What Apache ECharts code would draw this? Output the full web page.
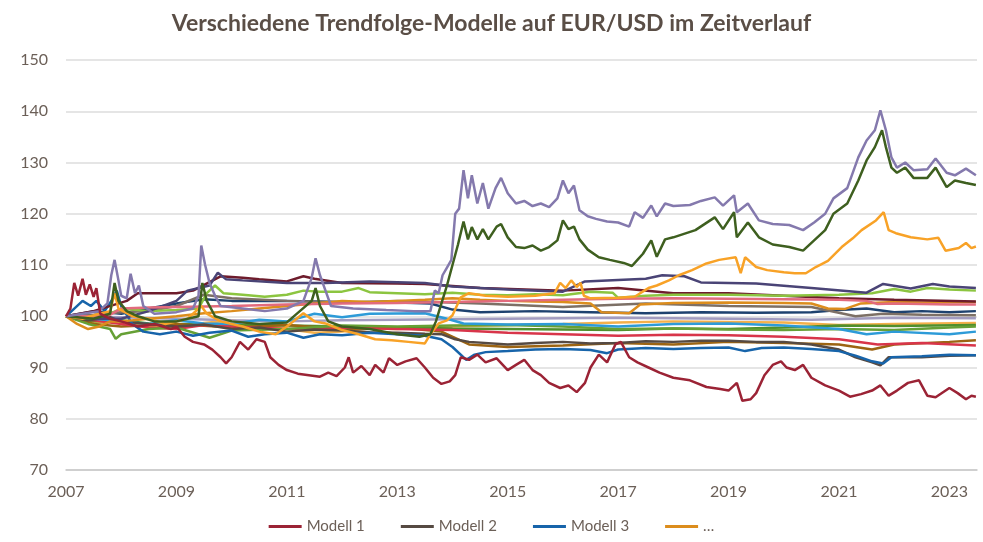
<!DOCTYPE html>
<html><head><meta charset="utf-8">
<script src="https://cdn.jsdelivr.net/npm/echarts@6/dist/echarts.min.js"></script>
<style>html,body{margin:0;padding:0;background:#fff}#c{width:983px;height:542px}</style>
</head><body><div id="c"></div>
<script>
const titleText = 'Verschiedene Trendfolge-Modelle auf EUR/USD im Zeitverlauf';
const yTicks = [70, 80, 90, 100, 110, 120, 130, 140, 150];
const xStartYear = 2007;
const xEndYear = 2023.5;
const legendNames = ['Modell 1', 'Modell 2', 'Modell 3', '…'];

// [decimal year, index value]
const modell1 = [[2007.0,100],[2007.08,101.5],[2007.15,106.5],[2007.22,104],[2007.3,107.3],[2007.36,104.2],[2007.43,106.2],[2007.5,103.8],[2007.55,105.5],[2007.62,100.5],[2007.8,99.5],[2008.0,99],[2008.3,98],[2008.6,98.5],[2008.9,97.5],[2009.0,98],[2009.15,96],[2009.3,95],[2009.5,94.5],[2009.65,93.5],[2009.8,92],[2009.9,90.8],[2010.0,92],[2010.15,95],[2010.3,93.5],[2010.45,95.5],[2010.6,95],[2010.7,92],[2010.85,90.5],[2011.0,89.5],[2011.2,88.8],[2011.4,88.5],[2011.6,88.2],[2011.75,89],[2011.9,88.3],[2012.05,90],[2012.12,92],[2012.2,89],[2012.35,90.3],[2012.5,88.5],[2012.6,90.5],[2012.75,89],[2012.85,91.8],[2013.0,90.5],[2013.15,91.2],[2013.35,91.8],[2013.5,90],[2013.65,88],[2013.8,86.8],[2013.95,87.3],[2014.05,88.5],[2014.15,92],[2014.3,91.5],[2014.45,92.5],[2014.6,91],[2014.8,91.8],[2015.0,89.5],[2015.15,90.5],[2015.3,91.5],[2015.45,89.5],[2015.6,88.5],[2015.75,87],[2015.95,86],[2016.1,86.5],[2016.25,85.2],[2016.4,87],[2016.5,90],[2016.65,92.5],[2016.8,91],[2016.95,94.5],[2017.05,95],[2017.2,92],[2017.35,91],[2017.55,90],[2017.75,89],[2018.0,88],[2018.3,87.5],[2018.6,86.2],[2018.85,85.8],[2019.0,85.5],[2019.15,87],[2019.25,83.5],[2019.4,83.8],[2019.5,85],[2019.65,88.5],[2019.8,90.5],[2019.95,91.2],[2020.05,90],[2020.2,89.5],[2020.35,90.5],[2020.5,88],[2020.75,86.5],[2021.0,85.5],[2021.2,84.3],[2021.4,84.8],[2021.6,85.5],[2021.75,86.5],[2021.9,84.5],[2022.05,85.5],[2022.25,87],[2022.45,87.5],[2022.6,84.5],[2022.75,84.2],[2023.0,86],[2023.15,85],[2023.3,83.8],[2023.4,84.5],[2023.48,84.3]];
const modell2 = [[2007.0,100],[2007.4,99.2],[2007.8,99.8],[2008.0,99],[2008.5,98.5],[2009.0,98],[2009.5,98.4],[2010.0,97.5],[2010.5,97.8],[2011.0,97],[2011.5,97.4],[2012.0,97.2],[2012.5,96.9],[2013.0,96.8],[2013.5,96.6],[2013.8,96.5],[2014.05,95.5],[2014.3,95],[2015.0,94.5],[2015.5,94.8],[2016.0,95],[2016.5,94.7],[2017.0,94.8],[2017.5,95.1],[2018.0,95],[2018.5,95.2],[2019.0,95.2],[2019.5,95],[2020.0,95],[2020.5,94.5],[2021.0,93.5],[2021.3,92],[2021.6,91],[2021.75,90.4],[2021.9,92],[2022.5,92],[2023.0,92.3],[2023.48,92.4]];
const modell3 = [[2007.0,100],[2007.15,101.5],[2007.3,103],[2007.45,102],[2007.55,103],[2007.7,101],[2007.85,103.5],[2007.92,105],[2008.0,102],[2008.2,98.5],[2008.4,97],[2008.7,96.5],[2009.0,97],[2009.3,96.2],[2009.6,96.8],[2010.0,97.2],[2010.3,96],[2010.6,96.5],[2011.0,96.8],[2011.3,95.8],[2011.6,96.5],[2012.0,96.3],[2012.5,96.8],[2013.0,96.5],[2013.5,96.2],[2013.8,95.5],[2014.0,94],[2014.25,91.5],[2014.4,92.5],[2014.6,93],[2015.0,93.2],[2015.5,93.5],[2016.0,93.6],[2016.5,93.4],[2016.8,92.8],[2017.0,93.5],[2017.5,93.8],[2018.0,93.6],[2018.5,93.8],[2019.0,93.9],[2019.3,93.2],[2019.6,93.8],[2020.0,93.9],[2020.5,93.6],[2021.0,93.2],[2021.3,92.3],[2021.6,91.2],[2021.8,90.8],[2021.95,92],[2022.5,92.2],[2023.0,92.5],[2023.48,92.4]];
const modell4 = [[2007.0,100],[2007.2,98.5],[2007.4,97.5],[2007.6,98],[2007.8,99],[2008.0,99],[2008.5,99.5],[2009.0,100],[2009.5,100.6],[2010.0,101],[2010.5,101.5],[2011.0,102],[2011.5,102.5],[2012.0,103],[2012.5,102.8],[2013.0,103],[2013.5,103.2],[2014.0,103.5],[2014.5,103.2],[2015.0,103],[2015.5,102.9],[2016.0,102.8],[2016.5,102.5],[2016.7,100.8],[2017.2,100.6],[2017.4,102.3],[2018.0,102.6],[2019.0,102.7],[2020.0,102.6],[2020.5,102.5],[2020.8,101.5],[2021.1,101.4],[2021.4,102.5],[2022.0,102.8],[2022.5,102.7],[2023.48,102.8]];
const modell5 = [[2007.0,100],[2007.3,100.5],[2007.6,101],[2007.75,102.5],[2007.82,108],[2007.88,111],[2007.95,107],[2008.0,104],[2008.1,103.5],[2008.17,108.3],[2008.25,104.5],[2008.32,106],[2008.4,102],[2008.6,100.5],[2009.0,100.8],[2009.3,101.5],[2009.4,104],[2009.45,113.8],[2009.52,110],[2009.6,106.5],[2009.7,104],[2009.8,102],[2010.2,101.5],[2010.6,101],[2011.0,101.5],[2011.3,103],[2011.45,107.5],[2011.52,111.3],[2011.6,108],[2011.7,105],[2011.8,102],[2012.2,101.5],[2012.8,101.2],[2013.3,101],[2013.6,101],[2013.68,105],[2013.75,104.5],[2013.82,108],[2013.9,109.5],[2013.98,111],[2014.05,120],[2014.12,121],[2014.2,128.5],[2014.28,123],[2014.35,127.5],[2014.45,122],[2014.55,126],[2014.65,121],[2014.78,125],[2014.88,127],[2015.0,124],[2015.15,122],[2015.3,122.5],[2015.45,121.5],[2015.6,122],[2015.75,121.3],[2015.9,123],[2016.0,126.5],[2016.1,124],[2016.2,125.5],[2016.3,120.7],[2016.45,119.5],[2016.6,119],[2016.8,118.5],[2017.0,118.3],[2017.2,117.5],[2017.3,120.3],[2017.45,119.2],[2017.6,121.6],[2017.7,119.5],[2017.85,122],[2018.0,121.5],[2018.3,121.7],[2018.5,122.5],[2018.75,123.2],[2018.9,121.6],[2019.1,123.6],[2019.15,120.3],[2019.35,122],[2019.55,118.7],[2019.8,118],[2020.1,117.8],[2020.35,116.8],[2020.55,118.3],[2020.75,120],[2020.9,123],[2021.15,125],[2021.35,131],[2021.5,134.3],[2021.65,136.3],[2021.75,140.2],[2021.85,136.3],[2021.95,131],[2022.05,129],[2022.2,130],[2022.35,128.5],[2022.6,128.7],[2022.75,130.8],[2022.95,128],[2023.1,127.5],[2023.3,128.8],[2023.48,127.5]];
const modell6 = [[2007.0,100],[2007.5,99.5],[2007.8,100.5],[2007.88,106.5],[2007.95,103],[2008.1,101],[2008.3,100],[2008.6,99],[2009.0,99],[2009.4,100],[2009.47,106.5],[2009.55,103],[2009.7,100],[2010.0,99],[2010.5,98.5],[2011.0,98.8],[2011.45,103],[2011.52,105.5],[2011.6,102],[2011.75,99],[2012.0,98],[2012.5,97.5],[2013.0,96.5],[2013.4,96],[2013.6,96.5],[2013.7,99],[2013.8,102.5],[2013.9,106],[2014.0,110],[2014.1,114],[2014.2,118.5],[2014.28,115],[2014.35,117.4],[2014.45,115],[2014.55,117],[2014.65,115],[2014.8,117.5],[2014.88,118],[2015.0,115.4],[2015.15,113.5],[2015.3,113.3],[2015.45,113.8],[2015.6,112.8],[2015.75,113.5],[2015.9,114.8],[2016.0,118.7],[2016.1,117],[2016.2,117.5],[2016.3,115],[2016.45,113],[2016.65,111.5],[2016.85,111],[2017.1,110.4],[2017.25,109.8],[2017.35,111],[2017.45,112.2],[2017.6,114.8],[2017.7,111.6],[2017.85,115],[2018.0,115.4],[2018.4,116.8],[2018.75,119.3],[2018.9,117],[2019.1,120.3],[2019.15,115.4],[2019.35,118.3],[2019.55,115.4],[2019.8,114],[2020.1,113.5],[2020.35,112.8],[2020.55,114.8],[2020.75,116.8],[2020.9,120],[2021.15,122],[2021.35,126.5],[2021.5,130.4],[2021.65,133],[2021.78,136.3],[2021.85,133],[2021.95,129],[2022.05,128],[2022.2,129],[2022.35,127],[2022.6,127],[2022.75,129],[2022.95,125.2],[2023.1,126.5],[2023.3,126],[2023.48,125.6]];
const modell7 = [[2007.0,100],[2007.3,99.5],[2007.6,100.5],[2007.8,101],[2007.88,104.5],[2007.95,101.5],[2008.2,100],[2008.5,99.5],[2008.8,98.5],[2009.2,99.5],[2009.45,102],[2009.55,100.5],[2009.8,99],[2010.2,98],[2010.5,97],[2010.8,96.5],[2011.0,98],[2011.3,100.6],[2011.5,99],[2011.7,98.6],[2012.0,97.3],[2012.3,96.5],[2012.6,95.5],[2012.9,95.3],[2013.2,95],[2013.5,94.7],[2013.6,96.5],[2013.75,98.6],[2013.9,99.2],[2014.0,100.2],[2014.15,103.7],[2014.3,104.5],[2014.6,104],[2015.0,103.8],[2015.5,104],[2015.85,104.5],[2015.95,106.5],[2016.05,105.5],[2016.15,107],[2016.25,105.7],[2016.32,106.5],[2016.38,104],[2016.5,103.5],[2017.0,103.6],[2017.3,103.8],[2017.4,104.5],[2017.55,105.5],[2017.7,106],[2017.92,107],[2018.1,108],[2018.34,109],[2018.6,110.3],[2018.83,111],[2019.13,111.5],[2019.22,108.4],[2019.3,111.5],[2019.5,109.6],[2019.7,109],[2020.0,108.6],[2020.2,108.4],[2020.4,108.4],[2020.58,109.6],[2020.8,110.8],[2021.05,113.5],[2021.25,115.2],[2021.41,116.8],[2021.67,118.7],[2021.81,120.3],[2021.9,116.8],[2022.03,116.2],[2022.3,115.4],[2022.6,115],[2022.8,115.3],[2022.93,112.8],[2023.17,113.3],[2023.3,114.3],[2023.4,113.3],[2023.48,113.6]];
const modell8 = [[2007.0,100],[2007.5,99.5],[2008.0,99.5],[2008.5,101],[2009.0,103],[2009.2,105],[2009.6,106],[2009.75,108.5],[2009.9,107.2],[2010.2,107],[2011.0,106.5],[2011.7,106.5],[2012.5,106.8],[2013.5,106.5],[2014.0,105.8],[2015.0,105.2],[2016.0,104.8],[2016.4,106.8],[2017.5,107.3],[2017.8,108],[2018.2,107.8],[2018.5,106.6],[2019.5,106.4],[2020.5,105.5],[2021.5,104.6],[2021.8,106.3],[2022.3,105.4],[2022.7,106.3],[2023.0,105.8],[2023.48,105.5]];
const modell9 = [[2007.0,100],[2007.5,101],[2008.1,103],[2008.3,104.5],[2009.0,104.5],[2009.3,105],[2009.8,107.8],[2010.2,107.5],[2010.5,107.2],[2011.0,106.8],[2011.3,107.8],[2011.5,107.3],[2012.0,106.5],[2013.0,106.4],[2013.5,106.3],[2014.5,105.5],[2016.0,105],[2017.0,105.5],[2018.0,104.5],[2019.0,104.5],[2020.0,104],[2021.0,103.5],[2022.0,103.2],[2023.48,102.9]];
const modell10 = [[2007.0,100],[2007.5,99.5],[2007.8,100.5],[2008.0,101.5],[2008.5,101],[2009.0,101.2],[2009.4,101.5],[2009.55,104.5],[2009.7,106],[2009.85,104.5],[2010.2,104.2],[2010.6,103.8],[2011.0,104.2],[2011.3,105],[2011.6,104.8],[2012.0,104.8],[2012.3,105.5],[2012.5,104.7],[2013.0,104.5],[2013.5,104.3],[2014.0,104.6],[2014.5,104.2],[2015.0,104.1],[2015.5,104.3],[2016.0,104.1],[2016.5,104.8],[2016.9,104.6],[2017.0,103.6],[2017.5,104],[2018.0,104.2],[2019.0,104.2],[2020.0,104],[2021.0,104.2],[2021.6,104.5],[2022.0,105.3],[2022.3,104.8],[2022.6,105.5],[2023.0,105.2],[2023.48,105]];
const modell11 = [[2007.0,100],[2007.5,100],[2007.8,100.3],[2008.0,101.5],[2008.5,101.7],[2009.0,101.8],[2010.0,102],[2011.0,102.3],[2012.0,102.5],[2013.0,102.6],[2014.0,102.8],[2015.0,103],[2016.0,103.2],[2017.0,103.4],[2018.0,103.5],[2019.0,103.4],[2020.0,103.3],[2021.0,103.2],[2021.5,103],[2021.7,102.4],[2022.0,102.5],[2023.0,102.3],[2023.48,102.3]];
const modell12 = [[2007.0,100],[2007.5,99.5],[2008.0,99],[2008.5,98.5],[2009.0,99.2],[2009.5,98.6],[2010.0,98.5],[2010.5,99.3],[2011.0,99],[2011.5,100.5],[2012.0,99.8],[2012.5,100.5],[2013.5,100.6],[2013.9,99.5],[2014.2,98.6],[2015.0,98.4],[2016.0,98.5],[2017.0,98],[2018.0,98.5],[2019.0,98.6],[2020.0,98.2],[2021.0,97.5],[2021.5,96.5],[2022.0,97],[2023.0,96.5],[2023.48,97]];
const modell13 = [[2007.0,100],[2007.5,99.2],[2008.0,98.5],[2008.5,97.8],[2009.0,97.5],[2009.5,98.3],[2010.0,98],[2011.0,97.5],[2012.0,97.8],[2013.0,97.5],[2014.0,97.3],[2015.0,96.8],[2016.0,96.5],[2017.0,96.2],[2018.0,96.4],[2019.0,96.3],[2020.0,96],[2021.0,95.5],[2021.7,94.5],[2022.5,94.8],[2023.48,94.3]];
const modell14 = [[2007.0,100],[2007.4,98.5],[2007.8,97.5],[2007.9,95.6],[2008.0,96.5],[2008.5,97.5],[2009.0,97.8],[2009.4,96.5],[2009.6,95.8],[2010.0,97.2],[2011.0,97.5],[2012.0,98.2],[2013.0,98],[2014.0,98.2],[2015.0,98.3],[2016.0,98],[2017.0,97.5],[2018.0,97.6],[2019.0,97.4],[2020.0,97.3],[2021.0,97.5],[2022.0,97.3],[2023.0,97.8],[2023.48,98]];
const modell15 = [[2007.0,100],[2008.0,99.8],[2009.0,99.5],[2010.0,99.2],[2011.0,99],[2012.0,99.2],[2013.0,99.3],[2014.0,99.4],[2015.0,99.5],[2016.0,99.6],[2017.0,99.7],[2018.0,99.6],[2019.0,99.5],[2020.5,99.3],[2022.0,99.7],[2023.48,99.6]];
const modell16 = [[2007.0,100],[2007.5,101],[2008.0,100.5],[2008.5,101.5],[2009.0,102.5],[2009.5,103.3],[2010.0,103],[2011.0,103],[2012.0,102.8],[2013.0,102.7],[2013.6,102.5],[2014.0,101.3],[2014.5,100.8],[2015.5,101],[2016.5,100.8],[2017.5,100.6],[2018.5,100.8],[2019.5,100.7],[2020.5,100.8],[2021.0,101.2],[2021.5,101.5],[2022.0,100.8],[2022.5,101],[2023.0,100.8],[2023.48,101]];
const modell17 = [[2007.0,100],[2007.5,98.5],[2008.0,98],[2009.0,98.5],[2010.0,97.8],[2011.0,98.3],[2012.0,97.5],[2013.0,97.8],[2013.8,97],[2014.3,94.5],[2015.0,94],[2016.0,94.3],[2017.0,94.8],[2018.0,94.5],[2019.0,95],[2020.0,94.8],[2021.0,94.5],[2021.6,93.5],[2022.0,94.5],[2023.0,95],[2023.48,95.3]];
const modell18 = [[2007.0,100],[2007.5,100.3],[2008.0,100.8],[2008.5,101],[2009.0,102],[2009.5,104.2],[2010.0,103.5],[2011.0,103],[2012.0,102.7],[2013.0,103],[2014.5,102.5],[2016.0,101.8],[2017.5,102.5],[2019.0,102],[2020.5,101.8],[2021.3,100],[2021.8,100.5],[2022.5,100.3],[2023.48,100.2]];
const modell19 = [[2007.0,100],[2007.5,98.8],[2008.0,99],[2008.5,98.2],[2009.0,98],[2009.5,98.7],[2010.0,99.2],[2010.5,98.2],[2011.0,97.5],[2011.5,96.8],[2012.0,97],[2012.5,97.6],[2013.0,97.5],[2014.0,98],[2015.0,98.3],[2016.0,98.5],[2017.0,98.8],[2018.0,99],[2019.0,98.9],[2020.0,98.8],[2021.0,98.3],[2022.0,98.5],[2023.48,98.7]];
const modell20 = [[2007.0,100],[2007.5,99],[2008.0,99.2],[2008.5,98.6],[2009.0,98.5],[2010.0,98.3],[2011.0,98.2],[2012.0,98],[2013.0,97.8],[2014.0,97.6],[2015.0,97.5],[2016.0,97.4],[2017.0,97.3],[2018.0,97.6],[2019.0,97.5],[2020.0,97.8],[2021.0,98.2],[2022.0,98.1],[2023.48,98.3]];

const seriesList = [
  ['M19', '#f4b04a', modell19], ['M20', '#4f8f2c', modell20], ['M15', '#a29cc0', modell15],
  ['M17', '#9c6412', modell17], ['M13', '#d8354a', modell13], ['M14', '#66a035', modell14],
  ['M12', '#2d9bd8', modell12], ['M16', '#1e426f', modell16], ['M18', '#7d7066', modell18],
  ['Modell 2', '#564a42', modell2], ['Modell 3', '#1764aa', modell3], ['…', '#dc8d1d', modell4],
  ['M9', '#6e1c2c', modell9], ['M10', '#8cc540', modell10], ['M8', '#4a4476', modell8],
  ['M11', '#e26b7d', modell11], ['M7', '#f8a227', modell7], ['M6', '#3e5f1f', modell6],
  ['M5', '#8479ad', modell5], ['Modell 1', '#9b2335', modell1]
];

const chart = echarts.init(document.getElementById('c'), null, {renderer: 'canvas'});
const font = 'Lato, "Open Sans", sans-serif';
chart.setOption({
  animation: false,
  backgroundColor: '#ffffff',
  title: {text: titleText, left: 'center', top: 7,
    textStyle: {fontFamily: font, fontSize: 23, fontWeight: 'bold', color: '#5a4e46'}},
  grid: {left: 66, right: 6, top: 60, bottom: 72},
  legend: {data: legendNames, bottom: 3, left: 'center', icon: 'rect', itemWidth: 33, itemHeight: 3, itemGap: 36,
    textStyle: {fontFamily: font, fontSize: 15, color: '#6b5f57'}},
  xAxis: {type: 'value', min: 0, max: xEndYear - xStartYear, interval: 2,
    splitLine: {show: false}, axisTick: {show: false},
    axisLine: {show: true, lineStyle: {color: '#c8c8c8', width: 1.5}},
    axisLabel: {fontFamily: font, fontSize: 16, color: '#6b5f57', margin: 14,
      formatter: v => (Number.isInteger(v) && v % 2 === 0) ? String(v + xStartYear) : ''}},
  yAxis: {type: 'value', min: yTicks[0], max: yTicks[yTicks.length - 1], interval: 10,
    axisLine: {show: false}, axisTick: {show: false},
    splitLine: {lineStyle: {color: '#dcdcdc', width: 1.5}},
    axisLabel: {fontFamily: font, fontSize: 16, color: '#6b5f57', margin: 18}},
  series: seriesList.map(([name, color, arr]) => ({
    name, type: 'line', showSymbol: false, symbol: 'none', color,
    lineStyle: {width: 2.5, color}, z: 2,
    data: arr.map(p => [p[0] - xStartYear, p[1]])
  }))
});
</script></body></html>
